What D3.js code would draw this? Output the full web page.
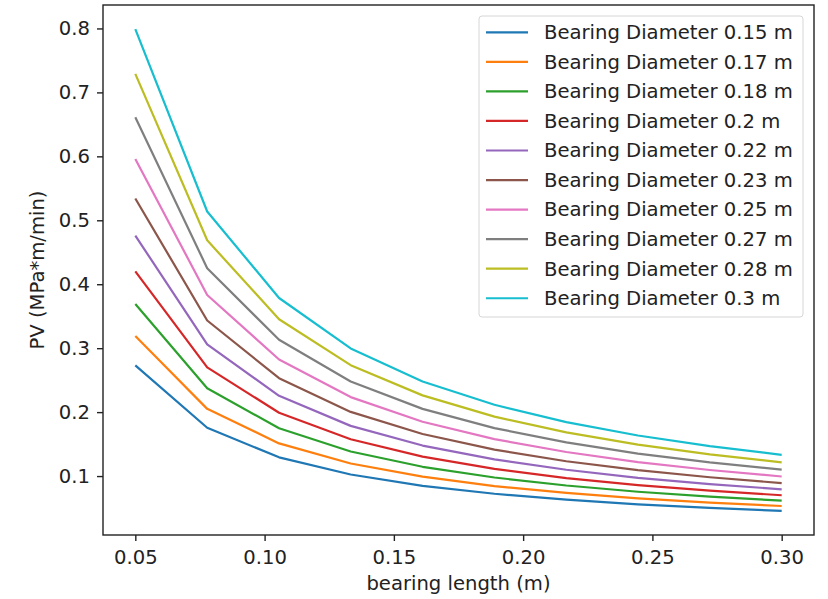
<!DOCTYPE html>
<html>
<head>
<meta charset="utf-8">
<script src="https://cdn.jsdelivr.net/npm/d3@7"></script>
<style>
  html, body { margin: 0; padding: 0; background: #fff; }
  svg { display: block; font-family: "DejaVu Sans", sans-serif; }
</style>
</head>
<body>
<svg id="chart" width="828" height="599"></svg>
<script>
// Bearing lengths (m) along the x axis
const lengths = [0.05, 0.0778, 0.1056, 0.1333, 0.1611, 0.1889, 0.2167, 0.2444, 0.2722, 0.30];

// Series labels, one per bearing diameter
const diameters = ["0.15", "0.17", "0.18", "0.2", "0.22", "0.23", "0.25", "0.27", "0.28", "0.3"];

// PV values (MPa*m/min) for each diameter, in the order of `lengths`
const pv015 = [0.273, 0.1755, 0.1293, 0.1024, 0.0847, 0.0723, 0.0630, 0.0558, 0.0502, 0.0455];
const pv017 = [0.319, 0.2051, 0.1511, 0.1196, 0.0990, 0.0844, 0.0736, 0.0652, 0.0586, 0.0532];
const pv018 = [0.369, 0.2372, 0.1748, 0.1384, 0.1145, 0.0977, 0.0852, 0.0755, 0.0678, 0.0615];
const pv020 = [0.420, 0.2700, 0.1990, 0.1575, 0.1303, 0.1112, 0.0969, 0.0859, 0.0772, 0.0700];
const pv022 = [0.476, 0.3060, 0.2255, 0.1785, 0.1477, 0.1260, 0.1099, 0.0973, 0.0874, 0.0793];
const pv023 = [0.534, 0.3433, 0.2530, 0.2003, 0.1657, 0.1413, 0.1232, 0.1092, 0.0981, 0.0890];
const pv025 = [0.596, 0.3832, 0.2823, 0.2235, 0.1849, 0.1578, 0.1376, 0.1219, 0.1095, 0.0993];
const pv027 = [0.661, 0.4250, 0.3131, 0.2479, 0.2051, 0.1750, 0.1526, 0.1352, 0.1214, 0.1102];
const pv028 = [0.729, 0.4687, 0.3453, 0.2734, 0.2262, 0.1930, 0.1683, 0.1491, 0.1339, 0.1215];
const pv030 = [0.799, 0.5137, 0.3785, 0.2996, 0.2479, 0.2115, 0.1844, 0.1634, 0.1468, 0.1332];
const seriesValues = [pv015, pv017, pv018, pv020, pv022, pv023, pv025, pv027, pv028, pv030];

// Tick values
const xTicks = [0.05, 0.10, 0.15, 0.20, 0.25, 0.30];
const yTicks = [0.1, 0.2, 0.3, 0.4, 0.5, 0.6, 0.7, 0.8];

const colors = ["#1f77b4", "#ff7f0e", "#2ca02c", "#d62728", "#9467bd",
                "#8c564b", "#e377c2", "#7f7f7f", "#bcbd22", "#17becf"];

const svg = d3.select("#chart");
const plot = { left: 103, top: 5, right: 814, bottom: 535 };

// Axis domains padded by 5% of the data span on each side
const allY = seriesValues.flat();
const xMin = d3.min(lengths), xMax = d3.max(lengths);
const yMin = d3.min(allY), yMax = d3.max(allY);
const xPad = (xMax - xMin) * 0.05, yPad = (yMax - yMin) * 0.05;

const x = d3.scaleLinear().domain([xMin - xPad, xMax + xPad]).range([plot.left, plot.right]);
const y = d3.scaleLinear().domain([yMin - yPad, yMax + yPad]).range([plot.bottom, plot.top]);

const fontSize = 19.6;
const axisColor = "#222";

// Lines
const line = d3.line().x((d, i) => x(lengths[i])).y(d => y(d));
svg.append("g").selectAll("path")
  .data(seriesValues)
  .join("path")
  .attr("d", d => line(d))
  .attr("fill", "none")
  .attr("stroke", (d, i) => colors[i])
  .attr("stroke-width", 2.2)
  .attr("stroke-linejoin", "round")
  .attr("stroke-linecap", "butt");

// X axis
const xAxis = svg.append("g")
  .attr("transform", `translate(0,${plot.bottom})`)
  .call(d3.axisBottom(x).tickValues(xTicks).tickFormat(d3.format(".2f")).tickSize(6).tickPadding(9));
xAxis.select(".domain").remove();
xAxis.selectAll("line").attr("stroke", axisColor).attr("stroke-width", 1.4);
xAxis.selectAll("text").attr("fill", axisColor).attr("font-size", fontSize)
  .attr("font-family", "DejaVu Sans");

// Y axis
const yAxis = svg.append("g")
  .attr("transform", `translate(${plot.left},0)`)
  .call(d3.axisLeft(y).tickValues(yTicks).tickFormat(d3.format(".1f")).tickSize(6).tickPadding(7));
yAxis.select(".domain").remove();
yAxis.selectAll("line").attr("stroke", axisColor).attr("stroke-width", 1.4);
yAxis.selectAll("text").attr("fill", axisColor).attr("font-size", fontSize)
  .attr("font-family", "DejaVu Sans");

// Frame around the plotting area
svg.append("rect")
  .attr("x", plot.left).attr("y", plot.top)
  .attr("width", plot.right - plot.left).attr("height", plot.bottom - plot.top)
  .attr("fill", "none").attr("stroke", axisColor).attr("stroke-width", 1.4);

// Axis titles
svg.append("text")
  .attr("x", (plot.left + plot.right) / 2).attr("y", 590)
  .attr("text-anchor", "middle").attr("font-size", fontSize).attr("fill", axisColor)
  .text("bearing length (m)");
svg.append("text")
  .attr("transform", `translate(44,${(plot.top + plot.bottom) / 2}) rotate(-90)`)
  .attr("text-anchor", "middle").attr("font-size", fontSize).attr("fill", axisColor)
  .text("PV (MPa*m/min)");

// Legend
const legend = svg.append("g");
legend.append("rect")
  .attr("x", 479).attr("y", 16).attr("width", 324).attr("height", 301)
  .attr("rx", 3).attr("fill", "#fff").attr("fill-opacity", 0.8)
  .attr("stroke", "#d6d6d6").attr("stroke-width", 1);
const rows = legend.selectAll("g.row")
  .data(diameters)
  .join("g")
  .attr("class", "row")
  .attr("transform", (d, i) => `translate(0,${32.3 + i * 29.55})`);
rows.append("line")
  .attr("x1", 486).attr("x2", 528).attr("y1", 0).attr("y2", 0)
  .attr("stroke", (d, i) => colors[i]).attr("stroke-width", 2.2);
rows.append("text")
  .attr("x", 544).attr("y", 0).attr("dy", "0.35em")
  .attr("font-size", fontSize).attr("fill", axisColor)
  .text(d => `Bearing Diameter ${d} m`);
</script>
</body>
</html>
